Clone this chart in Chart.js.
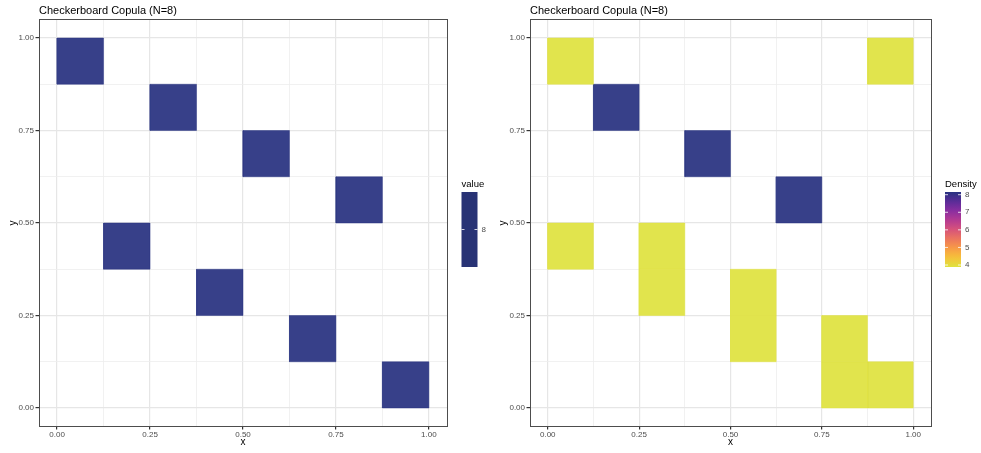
<!DOCTYPE html>
<html><head><meta charset="utf-8">
<script src="https://cdn.jsdelivr.net/npm/chart.js@4.4.1/dist/chart.umd.min.js"></script>
<style>
html,body{margin:0;padding:0;background:#fff;overflow:hidden}
#cl{position:absolute;left:0;top:0}
#cr{position:absolute;left:490px;top:0}
</style>
</head><body>
<canvas id="cl" width="490" height="453"></canvas>
<canvas id="cr" width="491" height="453"></canvas>
<script>
// ---------- data ----------
const panelTitle = "Checkerboard Copula (N=8)";
const majorTicks = [0, 0.25, 0.5, 0.75, 1];
const majorLabels = ["0.00", "0.25", "0.50", "0.75", "1.00"];
const minorTicks = [0.125, 0.375, 0.625, 0.875];

// left panel: one cell per column, value 8
const leftXMin = [0, 0.125, 0.25, 0.375, 0.5, 0.625, 0.75, 0.875];
const leftXMax = [0.125, 0.25, 0.375, 0.5, 0.625, 0.75, 0.875, 1];
const leftYMin = [0.875, 0.375, 0.75, 0.25, 0.625, 0.125, 0.5, 0];
const leftYMax = [1, 0.5, 0.875, 0.375, 0.75, 0.25, 0.625, 0.125];
const leftValue = [8, 8, 8, 8, 8, 8, 8, 8];
const leftLegendTitle = "value";
const leftLegendTicks = [8];

// right panel: density cells
const rightXMin = [0, 0.875, 0, 0.25, 0.25, 0.5, 0.5, 0.75, 0.75, 0.875, 0.125, 0.375, 0.625];
const rightXMax = [0.125, 1, 0.125, 0.375, 0.375, 0.625, 0.625, 0.875, 0.875, 1, 0.25, 0.5, 0.75];
const rightYMin = [0.875, 0.875, 0.375, 0.375, 0.25, 0.25, 0.125, 0.125, 0, 0, 0.75, 0.625, 0.5];
const rightYMax = [1, 1, 0.5, 0.5, 0.375, 0.375, 0.25, 0.25, 0.125, 0.125, 0.875, 0.75, 0.625];
const rightDensity = [4, 4, 4, 4, 4, 4, 4, 4, 4, 4, 8, 8, 8];
const rightLegendTitle = "Density";
const rightLegendTicks = [4, 5, 6, 7, 8];
const densityMin = 4, densityMax = 8;

// ---------- styles ----------
const FONT = "'Liberation Sans', Arial, Helvetica, sans-serif";
Chart.defaults.font.family = FONT;
const paletteStops = [
  [0, [223, 226, 63]], [0.125, [246, 194, 58]], [0.25, [247, 155, 70]],
  [0.375, [236, 118, 94]], [0.5, [215, 83, 122]], [0.625, [180, 58, 146]],
  [0.75, [138, 46, 160]], [0.875, [90, 44, 152]], [1, [40, 50, 128]]
];
function paletteRGB(t) {
  t = Math.max(0, Math.min(1, t));
  for (let i = 1; i < paletteStops.length; i++) {
    if (t <= paletteStops[i][0]) {
      const [t0, c0] = paletteStops[i - 1], [t1, c1] = paletteStops[i];
      const f = (t - t0) / (t1 - t0);
      return c0.map((c, k) => Math.round(c + (c1[k] - c) * f));
    }
  }
  return paletteStops[paletteStops.length - 1][1];
}
const rgba = (c, a) => `rgba(${c[0]},${c[1]},${c[2]},${a})`;
const colorFor = v => paletteRGB((v - densityMin) / (densityMax - densityMin));

function cellDatasets(x0, x1, y0, y1, vals) {
  return vals.map((v, i) => {
    const c = colorFor(v);
    return {
      data: [{x: x0[i], y: y0[i]}, {x: x1[i], y: y0[i]}, {x: x1[i], y: y1[i]}, {x: x0[i], y: y1[i]}, {x: x0[i], y: y0[i]}],
      fill: 'shape',
      backgroundColor: rgba(c, 0.93),
      borderColor: rgba(c, 0.45),
      borderWidth: 1,
      pointRadius: 0,
      pointHoverRadius: 0,
      tension: 0
    };
  });
}

const allTicks = majorTicks.concat(minorTicks).sort((a, b) => a - b);
const isMinor = v => minorTicks.some(m => Math.abs(m - v) < 1e-9);
function labelFor(v) {
  const i = majorTicks.findIndex(m => Math.abs(m - v) < 1e-9);
  return i >= 0 ? majorLabels[i] : '';
}

function axisCfg(isX, titlePad) {
  return {
    type: 'linear', min: -0.05, max: 1.05,
    afterBuildTicks: s => { s.ticks = allTicks.map(v => ({value: v})); },
    afterFit: s => { if (isX) s.height = 23.5; else s.width = 35.5; },
    grid: {
      color: c => (c.tick && isMinor(c.tick.value)) ? '#eeeeee' : '#e6e6e6',
      lineWidth: c => (c.tick && isMinor(c.tick.value)) ? 0.8 : 1.2,
      tickColor: c => (c.tick && isMinor(c.tick.value)) ? 'rgba(0,0,0,0)' : '#333333',
      tickLength: 3, drawTicks: true
    },
    border: {display: false},
    ticks: {
      callback: v => labelFor(v), autoSkip: false, maxRotation: 0,
      font: {size: 8}, color: '#4d4d4d', padding: isX ? 0 : 1.5
    },
    title: {
      display: true, text: isX ? 'x' : 'y', color: '#000',
      font: {size: 10}, padding: isX ? {top: 0, bottom: 1.5} : {top: titlePad, bottom: 0}
    }
  };
}

const panelPlugin = {
  id: 'panelDeco',
  afterDraw(chart, args, o) {
    const {ctx, chartArea: a} = chart;
    ctx.save();
    // panel border
    ctx.strokeStyle = '#4d4d4d';
    ctx.lineWidth = 1;
    ctx.strokeRect(Math.round(a.left) + 0.5, Math.round(a.top) - 0.5, Math.round(a.right - a.left) - 1, Math.round(a.bottom - a.top));
    // title
    ctx.fillStyle = '#000';
    ctx.font = `11px ${FONT}`;
    ctx.textAlign = 'left';
    ctx.textBaseline = 'alphabetic';
    ctx.fillText(panelTitle, a.left + 0.5, 13.5);
    // legend
    const L = o.legend;
    ctx.font = `9.5px ${FONT}`;
    ctx.textBaseline = 'middle';
    ctx.fillText(L.title, L.x, 184);
    const top = 192, bot = 267, w = 16;
    if (L.solid) {
      ctx.fillStyle = L.solid;
      ctx.fillRect(L.x, top, w, bot - top);
    } else {
      const g = ctx.createLinearGradient(0, bot, 0, top);
      for (let t = 0; t <= 1.0001; t += 0.05) g.addColorStop(Math.min(1, t), rgba(paletteRGB(t), 1));
      ctx.fillStyle = g;
      ctx.fillRect(L.x, top, w, bot - top);
    }
    ctx.font = `8px ${FONT}`;
    L.ticks.forEach(v => {
      const y = L.solid ? (top + bot) / 2 : 265 - (v - L.min) / (L.max - L.min) * (265 - 194.7);
      ctx.strokeStyle = '#ffffff';
      ctx.lineWidth = 0.8;
      ctx.beginPath();
      ctx.moveTo(L.x, y); ctx.lineTo(L.x + 3, y);
      ctx.moveTo(L.x + w - 3, y); ctx.lineTo(L.x + w, y);
      ctx.stroke();
      ctx.fillStyle = '#4d4d4d';
      ctx.fillText(String(v), L.x + w + 4, y);
    });
    ctx.restore();
  }
};

function makeChart(id, datasets, padding, legend, titlePad) {
  return new Chart(document.getElementById(id), {
    type: 'line',
    data: {datasets},
    options: {
      responsive: false, animation: false, devicePixelRatio: 1,
      layout: {padding},
      scales: {x: axisCfg(true, titlePad), y: axisCfg(false, titlePad)},
      plugins: {legend: {display: false}, tooltip: {enabled: false}, panelDeco: {legend}},
      events: []
    },
    plugins: [panelPlugin]
  });
}

makeChart('cl', cellDatasets(leftXMin, leftXMax, leftYMin, leftYMax, leftValue),
  {left: 3, right: 42.5, top: 19.5, bottom: 3},
  {title: leftLegendTitle, x: 461.5, solid: '#283375', ticks: leftLegendTicks}, 4.5);

makeChart('cr', cellDatasets(rightXMin, rightXMax, rightYMin, rightYMax, rightDensity),
  {left: 4, right: 49.5, top: 19.5, bottom: 3},
  {title: rightLegendTitle, x: 455, ticks: rightLegendTicks, min: densityMin, max: densityMax}, 3.5);
</script>
</body></html>
